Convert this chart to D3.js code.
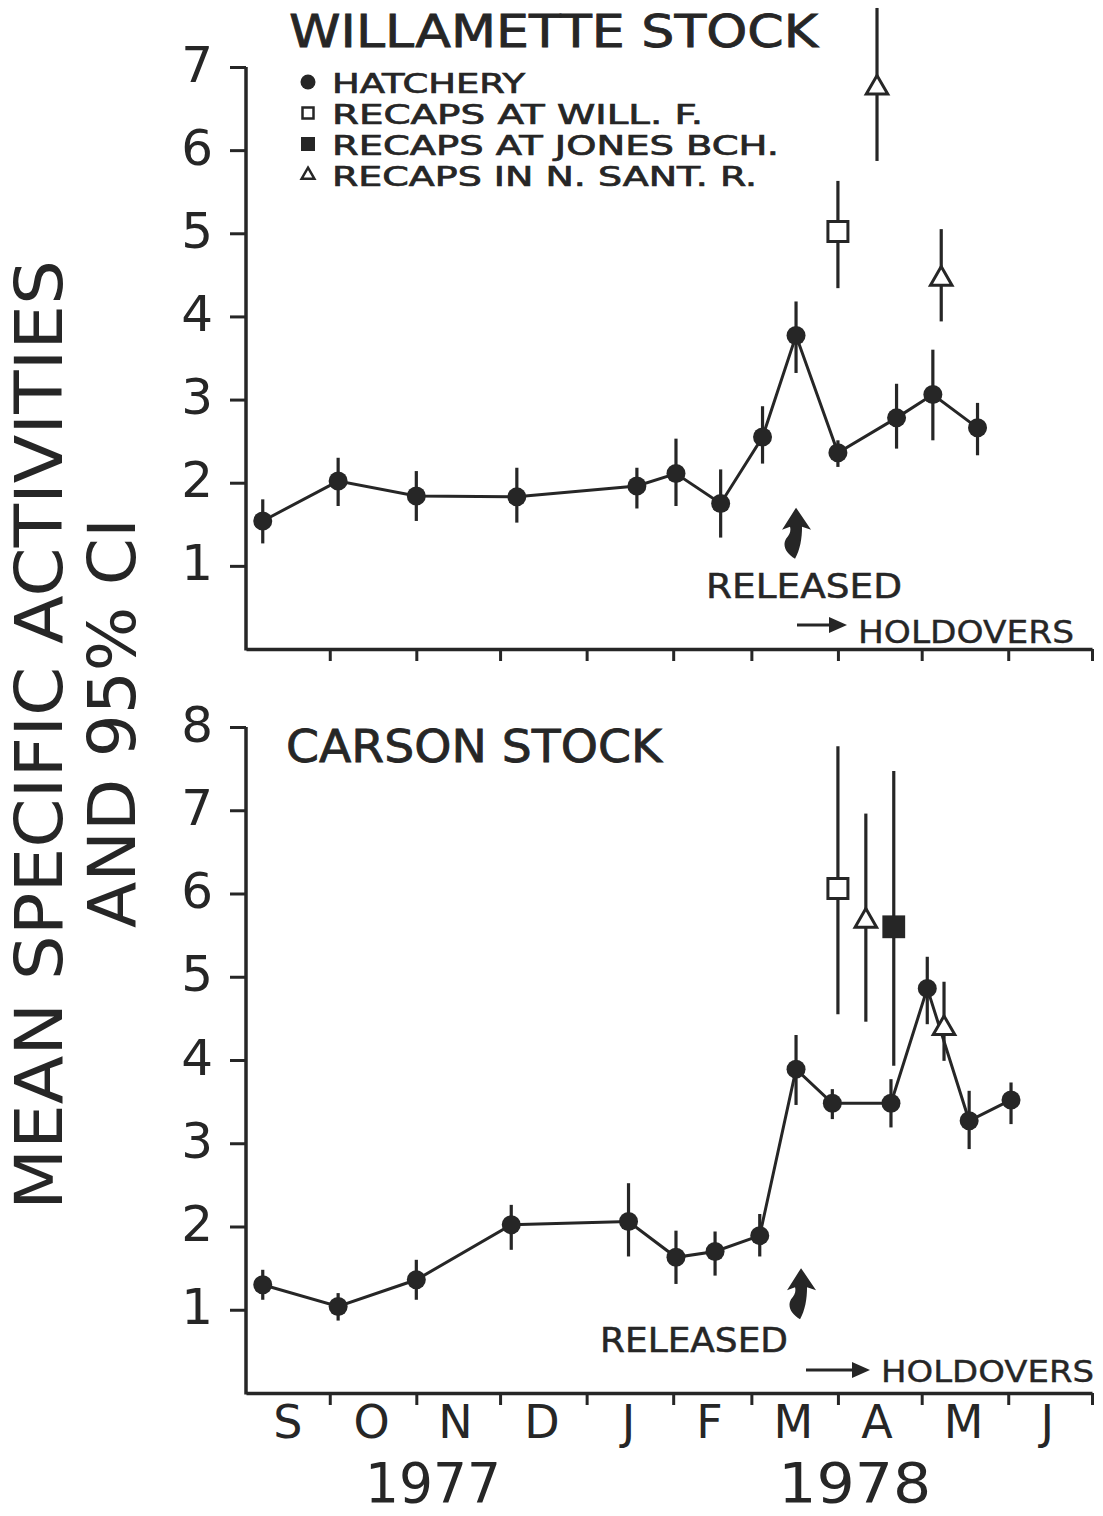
<!DOCTYPE html>
<html>
<head>
<meta charset="utf-8">
<script src="https://cdn.jsdelivr.net/npm/d3@7"></script>
<style>
  html, body { margin: 0; padding: 0; background: #ffffff; }
  svg { display: block; }
  text { font-family: "DejaVu Sans", sans-serif; fill: #262626; }
</style>
</head>
<body>
<svg id="chart" width="1103" height="1516"></svg>
<script>
const parse = d3.timeParse("%Y-%m-%d");

// ---- Willamette stock ----
const willHatchDates = ["1977-09-07","1977-10-04","1977-11-01","1977-12-07","1978-01-19","1978-02-02","1978-02-18","1978-03-05","1978-03-17","1978-04-01","1978-04-22","1978-05-05","1978-05-21"];
const willHatchMean  = [1.54, 2.02, 1.84, 1.83, 1.96, 2.11, 1.75, 2.55, 3.77, 2.36, 2.78, 3.06, 2.66];
const willHatchLow   = [1.27, 1.72, 1.54, 1.52, 1.69, 1.72, 1.34, 2.23, 3.32, 2.19, 2.41, 2.51, 2.33];
const willHatchHigh  = [1.80, 2.30, 2.14, 2.18, 2.18, 2.53, 2.16, 2.92, 4.18, 2.51, 3.19, 3.60, 2.96];

const willFallsDates = ["1978-04-01"];
const willFallsMean  = [5.02];
const willFallsLow   = [4.34];
const willFallsHigh  = [5.63];

const willSantDates  = ["1978-04-15", "1978-05-08"];
const willSantMean   = [6.75, 4.45];
const willSantLow    = [5.87, 3.94];
const willSantHigh   = [7.71, 5.05];

// ---- Carson stock ----
const carHatchDates = ["1977-09-07","1977-10-04","1977-11-01","1977-12-05","1978-01-16","1978-02-02","1978-02-16","1978-03-04","1978-03-17","1978-03-30","1978-04-20","1978-05-03","1978-05-18","1978-06-02"];
const carHatchMean  = [1.30, 1.04, 1.36, 2.02, 2.06, 1.63, 1.70, 1.89, 3.89, 3.48, 3.48, 4.86, 3.27, 3.52];
const carHatchLow   = [1.12, 0.87, 1.12, 1.72, 1.64, 1.31, 1.41, 1.64, 3.46, 3.29, 3.19, 4.43, 2.93, 3.23];
const carHatchHigh  = [1.48, 1.20, 1.60, 2.26, 2.52, 1.95, 1.94, 2.15, 4.30, 3.65, 3.77, 5.24, 3.63, 3.73];

const carFallsDates = ["1978-04-01"];
const carFallsMean  = [6.06];
const carFallsLow   = [4.55];
const carFallsHigh  = [7.77];

const carSantDates  = ["1978-04-11", "1978-05-09"];
const carSantMean   = [5.67, 4.38];
const carSantLow    = [4.46, 3.99];
const carSantHigh   = [6.96, 4.94];

const carJonesDates = ["1978-04-21"];
const carJonesMean  = [5.60];
const carJonesLow   = [3.93];
const carJonesHigh  = [7.47];

// ---- axis labels ----
const monthStarts = ["1977-10-01","1977-11-01","1977-12-01","1978-01-01","1978-02-01","1978-03-01","1978-04-01","1978-05-01","1978-06-01","1978-07-01"];
const monthMids   = ["1977-09-16","1977-10-16","1977-11-15","1977-12-16","1978-01-16","1978-02-14","1978-03-16","1978-04-15","1978-05-16","1978-06-15"];
const monthLabels = ["S","O","N","D","J","F","M","A","M","J"];
const yearLabels  = ["1977", "1978"];
const yearDates   = ["1977-11-07", "1978-04-07"];
const releaseDate = "1978-03-17";

const legendLabels = ["HATCHERY", "RECAPS AT WILL. F.", "RECAPS AT JONES BCH.", "RECAPS IN N. SANT. R."];
const legendKinds  = ["hatch", "falls", "jones", "sant"];

const ink = "#262626";
const svg = d3.select("#chart");

const x = d3.scaleTime()
  .domain([parse("1977-09-01"), parse("1978-07-01")])
  .range([246, 1092]);

function rows(dates, mean, low, high) {
  return dates.map((d, i) => ({ date: parse(d), v: mean[i], lo: low[i], hi: high[i] }));
}

function marker(sel, kind) {
  if (kind === "hatch") {
    sel.append("circle").attr("r", 9.5).attr("fill", ink);
  } else if (kind === "falls") {
    sel.append("path").attr("d", d3.symbol(d3.symbolSquare, 400)())
      .attr("fill", "#fff").attr("stroke", ink).attr("stroke-width", 3);
  } else if (kind === "jones") {
    sel.append("path").attr("d", d3.symbol(d3.symbolSquare, 520)())
      .attr("fill", ink);
  } else if (kind === "sant") {
    sel.append("path").attr("d", d3.symbol(d3.symbolTriangle, 200)())
      .attr("fill", "#fff").attr("stroke", ink).attr("stroke-width", 3)
      .attr("stroke-linejoin", "miter");
  }
}

// curved "released" arrow, tip at the origin
const releaseArrow = "M0,0 L15,22 L6,19 C6,31 4,42 -1,51 C-10,46 -14,38 -10,31 C-6,27 -5,23 -6,19 L-14,22 Z";

function drawPanel(cfg) {
  const g = svg.append("g");
  const y = d3.scaleLinear().domain([0, cfg.yMax]).range([cfg.yBase, cfg.yTop]);

  // y axis
  const ya = g.append("g").attr("transform", "translate(246,0)")
    .call(d3.axisLeft(y).tickValues(d3.range(1, cfg.yMax + 1)).tickSize(16)
      .tickSizeOuter(0).tickPadding(17).tickFormat(d3.format("d")));
  // x axis
  const xa = g.append("g").attr("transform", `translate(0,${cfg.yBase})`)
    .call(d3.axisBottom(x).tickValues(monthStarts.map(parse)).tickSize(12)
      .tickSizeOuter(0).tickFormat(""));
  [ya, xa].forEach(a => {
    a.attr("font-family", null).attr("font-size", null);
    a.select(".domain").attr("stroke", ink).attr("stroke-width", 3.5);
    a.selectAll(".tick line").attr("stroke", ink).attr("stroke-width", 3);
  });
  ya.selectAll(".tick text")
    .attr("font-size", 50).attr("fill", ink).attr("dy", "0.28em")
    .style("font-family", "'DejaVu Sans', sans-serif");
  ya.select(".domain").attr("d", `M0,${cfg.yBase + 1.5}V${cfg.yTop}`);

  // title
  g.append("text").attr("x", cfg.titleX).attr("y", cfg.titleY)
    .attr("font-size", cfg.titleSize).attr("textLength", cfg.titleLen)
    .attr("lengthAdjust", "spacingAndGlyphs").attr("stroke", ink).attr("stroke-width", 0.8)
    .text(cfg.title);

  // error bars
  cfg.series.forEach(s => {
    g.append("g").selectAll("line").data(s.data).join("line")
      .attr("x1", d => x(d.date)).attr("x2", d => x(d.date))
      .attr("y1", d => y(d.lo)).attr("y2", d => y(d.hi))
      .attr("stroke", ink).attr("stroke-width", 3.2);
  });

  // hatchery connecting line
  const hatch = cfg.series.find(s => s.kind === "hatch");
  g.append("path").datum(hatch.data)
    .attr("d", d3.line().x(d => x(d.date)).y(d => y(d.v)))
    .attr("fill", "none").attr("stroke", ink).attr("stroke-width", 3);

  // markers
  cfg.series.forEach(s => {
    g.append("g").selectAll("g").data(s.data).join("g")
      .attr("transform", d => `translate(${x(d.date)},${y(d.v)})`)
      .each(function () { marker(d3.select(this), s.kind); });
  });

  // release annotation
  g.append("path").attr("d", releaseArrow).attr("fill", ink)
    .attr("transform", `translate(${x(parse(releaseDate)) + cfg.arrowDx},${y(cfg.arrowTip)})`);
  g.append("text").attr("x", cfg.relX).attr("y", cfg.relY)
    .attr("font-size", 33).attr("textLength", cfg.relLen)
    .attr("lengthAdjust", "spacingAndGlyphs").attr("stroke", ink).attr("stroke-width", 0.5)
    .text("RELEASED");

  // holdovers annotation
  g.append("line").attr("x1", cfg.holdX).attr("x2", cfg.holdX + cfg.holdArrow - 14)
    .attr("y1", cfg.holdY).attr("y2", cfg.holdY)
    .attr("stroke", ink).attr("stroke-width", 3);
  g.append("path")
    .attr("d", `M${cfg.holdX + cfg.holdArrow},${cfg.holdY} l-18,-8 l0,16 Z`)
    .attr("fill", ink);
  g.append("text").attr("x", cfg.holdX + cfg.holdArrow + 11).attr("y", cfg.holdTextY)
    .attr("font-size", cfg.holdSize).attr("textLength", cfg.holdLen)
    .attr("lengthAdjust", "spacingAndGlyphs").attr("stroke", ink).attr("stroke-width", 0.4)
    .text("HOLDOVERS");

  return { g, y };
}

// ---- upper panel: Willamette ----
const willPanel = drawPanel({
  yMax: 7, yBase: 649, yTop: 67,
  title: "WILLAMETTE STOCK", titleX: 289, titleY: 47, titleSize: 44, titleLen: 529,
  series: [
    { kind: "hatch", data: rows(willHatchDates, willHatchMean, willHatchLow, willHatchHigh) },
    { kind: "falls", data: rows(willFallsDates, willFallsMean, willFallsLow, willFallsHigh) },
    { kind: "sant",  data: rows(willSantDates,  willSantMean,  willSantLow,  willSantHigh) }
  ],
  arrowDx: 0, arrowTip: 1.70,
  relX: 706, relY: 598, relLen: 196,
  holdX: 797, holdArrow: 50, holdY: 625, holdTextY: 643, holdSize: 32, holdLen: 216
});

// legend
const legend = willPanel.g.append("g");
const legendY = [82, 113, 144, 175];
const legendLen = [193, 371, 447, 425];
legendLabels.forEach((lab, i) => {
  const row = legend.append("g").attr("transform", `translate(308,${legendY[i]})`);
  const m = row.append("g");
  if (legendKinds[i] === "hatch") m.append("circle").attr("r", 7.5).attr("fill", ink);
  else if (legendKinds[i] === "falls") m.append("rect").attr("x", -5.5).attr("y", -5.5).attr("width", 11).attr("height", 11)
      .attr("fill", "#fff").attr("stroke", ink).attr("stroke-width", 2.5);
  else if (legendKinds[i] === "jones") m.append("rect").attr("x", -7).attr("y", -7).attr("width", 14).attr("height", 14).attr("fill", ink);
  else m.append("path").attr("d", d3.symbol(d3.symbolTriangle, 70)()).attr("fill", "#fff")
      .attr("stroke", ink).attr("stroke-width", 2.5);
  row.append("text").attr("x", 24).attr("y", 10.5)
    .attr("font-size", 26).attr("textLength", legendLen[i])
    .attr("lengthAdjust", "spacingAndGlyphs").attr("stroke", ink).attr("stroke-width", 0.7)
    .text(lab);
});

// ---- lower panel: Carson ----
const carPanel = drawPanel({
  yMax: 8, yBase: 1393, yTop: 727,
  title: "CARSON STOCK", titleX: 286, titleY: 762, titleSize: 45, titleLen: 376,
  series: [
    { kind: "hatch", data: rows(carHatchDates, carHatchMean, carHatchLow, carHatchHigh) },
    { kind: "falls", data: rows(carFallsDates, carFallsMean, carFallsLow, carFallsHigh) },
    { kind: "sant",  data: rows(carSantDates,  carSantMean,  carSantLow,  carSantHigh) },
    { kind: "jones", data: rows(carJonesDates, carJonesMean, carJonesLow, carJonesHigh) }
  ],
  arrowDx: 5, arrowTip: 1.50,
  relX: 600, relY: 1352, relLen: 188,
  holdX: 806, holdArrow: 64, holdY: 1370, holdTextY: 1382, holdSize: 30, holdLen: 213
});

// month labels
carPanel.g.append("g").selectAll("text").data(monthLabels).join("text")
  .attr("x", (d, i) => x(parse(monthMids[i])))
  .attr("y", 1438).attr("text-anchor", "middle")
  .attr("font-size", 46)
  .text(d => d);

// year labels
carPanel.g.append("g").selectAll("text").data(yearLabels).join("text")
  .attr("x", (d, i) => x(parse(yearDates[i])))
  .attr("y", 1502).attr("text-anchor", "middle")
  .attr("font-size", 56)
  .attr("textLength", (d, i) => i === 0 ? 136 : 153)
  .attr("lengthAdjust", "spacingAndGlyphs")
  .text(d => d);

// y axis title
svg.append("text").attr("transform", "translate(62,735) rotate(-90)")
  .attr("text-anchor", "middle").attr("font-size", 66)
  .attr("textLength", 950).attr("lengthAdjust", "spacingAndGlyphs")
  .text("MEAN SPECIFIC ACTIVITIES");
svg.append("text").attr("transform", "translate(135,723) rotate(-90)")
  .attr("text-anchor", "middle").attr("font-size", 66)
  .attr("textLength", 410).attr("lengthAdjust", "spacingAndGlyphs")
  .text("AND 95% CI");
</script>
</body>
</html>
